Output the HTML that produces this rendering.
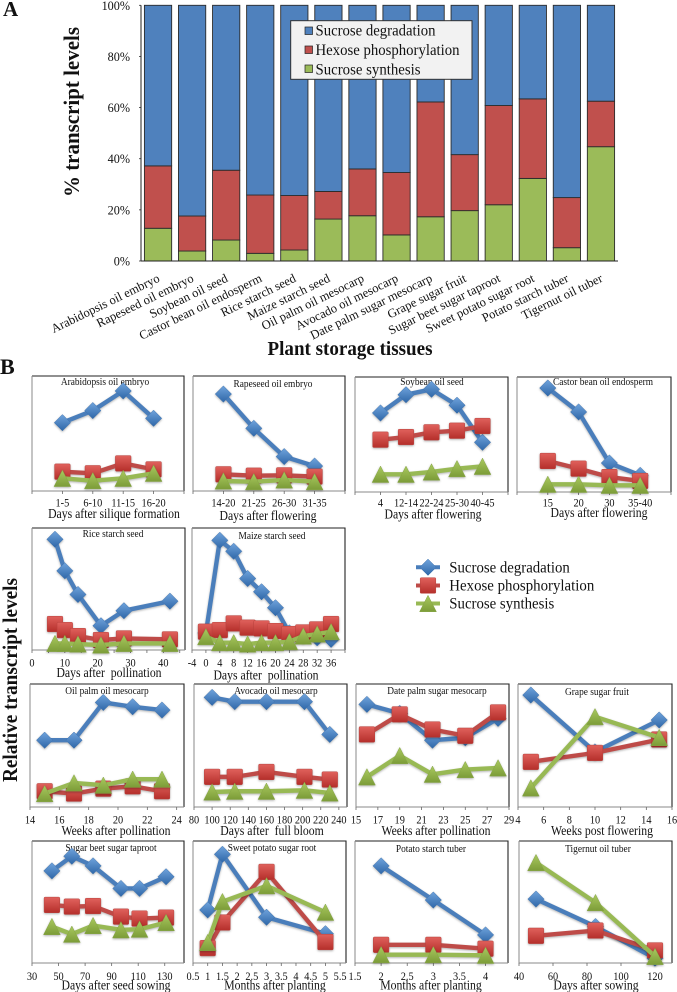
<!DOCTYPE html>
<html lang="en">
<head>
<meta charset="utf-8">
<title>Transcript levels in plant storage tissues</title>
<style>
html,body{margin:0;padding:0;background:#fff;width:677px;height:992px;overflow:hidden}
svg{display:block;filter:blur(.35px)}
text{font-family:"Liberation Serif",serif;fill:#111}
</style>
</head>
<body>
<svg id="fig" xmlns="http://www.w3.org/2000/svg" width="677" height="992" viewBox="0 0 677 992">
<defs>
<linearGradient id="gb" x1="0" y1="0" x2="0" y2="1"><stop offset="0" stop-color="#6fa3dc"/><stop offset="1" stop-color="#2f67a8"/></linearGradient>
<linearGradient id="gr" x1="0" y1="0" x2="0" y2="1"><stop offset="0" stop-color="#e0615c"/><stop offset="1" stop-color="#b52f2b"/></linearGradient>
<linearGradient id="gg" x1="0" y1="0" x2="0" y2="1"><stop offset="0" stop-color="#a9c95f"/><stop offset="1" stop-color="#7c9c38"/></linearGradient>
</defs>
<text x="3" y="16" font-size="21" font-weight="bold">A</text>
<text x="0" y="374" font-size="22" font-weight="bold">B</text>
<text transform="translate(79 112) rotate(-90)" text-anchor="middle" font-size="22" font-weight="bold" textLength="170" lengthAdjust="spacingAndGlyphs">% transcript levels</text>
<text x="350" y="355" text-anchor="middle" font-size="20" font-weight="bold" textLength="165" lengthAdjust="spacingAndGlyphs">Plant storage tissues</text>
<text transform="translate(17 680) rotate(-90)" text-anchor="middle" font-size="21" font-weight="bold" textLength="204" lengthAdjust="spacingAndGlyphs">Relative transcript levels</text>
<g id="bars"></g>
<g id="legendA">
<rect x="290.7" y="20.7" width="181.3" height="58.6" fill="#f2f2f2" stroke="#333" stroke-width="1"/>
<rect x="305" y="27" width="7.5" height="7.5" fill="#4f81bd" stroke="#222" stroke-width=".7"/>
<text x="315.5" y="35.5" font-size="15.5" textLength="120" lengthAdjust="spacingAndGlyphs">Sucrose degradation</text>
<rect x="305" y="46" width="7.5" height="7.5" fill="#c0504d" stroke="#222" stroke-width=".7"/>
<text x="315.5" y="55" font-size="15.5" textLength="144" lengthAdjust="spacingAndGlyphs">Hexose phosphorylation</text>
<rect x="305" y="65" width="7.5" height="7.5" fill="#9bbb59" stroke="#222" stroke-width=".7"/>
<text x="315.5" y="74.5" font-size="15.5" textLength="105" lengthAdjust="spacingAndGlyphs">Sucrose synthesis</text>
</g>
<g id="panels"></g>
<g id="legendB"></g>
<text x="449.3" y="572.5" font-size="15.5" textLength="120.5" lengthAdjust="spacingAndGlyphs">Sucrose degradation</text>
<text x="449.3" y="590.5" font-size="15.5" textLength="145" lengthAdjust="spacingAndGlyphs">Hexose phosphorylation</text>
<text x="449.3" y="608.5" font-size="15.5" textLength="105" lengthAdjust="spacingAndGlyphs">Sucrose synthesis</text>
</svg>
<script>
/* ---------- Chart A data ---------- */
const tissues = ["Arabidopsis oil embryo","Rapeseed oil embryo","Soybean oil seed","Castor bean oil endosperm","Rice starch seed","Maize starch seed","Oil palm oil mesocarp","Avocado oil mesocarp","Date palm sugar mesocarp","Grape sugar fruit","Sugar beet sugar taproot","Sweet potato sugar root","Potato starch tuber","Tigernut oil tuber"];
const barSynthesis = [12.8,3.9,8.2,3,4.3,16.4,17.7,10.2,17.3,19.7,22,32.3,5.2,44.7];
const barHexose = [24.4,13.7,27.3,22.8,21.3,10.8,18.3,24.4,44.9,21.9,38.8,31.1,19.6,17.8];
const barDegradation = [62.8,82.4,64.5,74.2,74.4,72.8,64,65.4,37.8,58.4,39.2,36.6,75.2,37.5];
const percentTicks = [0,20,40,60,80,100];

/* ---------- Chart B data ---------- */
const panelTitles = ["Arabidopsis oil embryo","Rapeseed oil embryo","Soybean oil seed","Castor bean oil endosperm","Rice starch seed","Maize starch seed","Oil palm oil mesocarp","Avocado oil mesocarp","Date palm sugar mesocarp","Grape sugar fruit","Sugar beet sugar taproot","Sweet potato sugar root","Potato starch tuber","Tigernut oil tuber"];
const panelXTitles = ["Days after silique formation","Days after flowering","Days after flowering","Days after flowering","Days after  pollination","Days after  pollination","Weeks after pollination","Days after  full bloom","Weeks after pollination","Weeks post flowering","Days after seed sowing","Months after planting","Months after planting","Days after sowing"];
const panelXValues = [[1,2,3,4],[1,2,3,4],[1,2,3,4,5],[1,2,3,4],[7,10,14,21,28,42],[0,4,8,12,16,20,24,28,32,36],[15,17,19,21,23],[100,125,160,202,230],[16,19,22,25,28],[5,10,15],[45,60,76,97,111,131],[1,1.5,3,5],[2,3,4],[50,85,120]];
const panelDegradation = [[59.4,69.9,87,63.2],[84.3,54.5,29.9,21.7],[68.7,84.6,89.3,75.4,43.2],[90.4,69.6,25.2,14.5],[90.7,64.9,45.5,19.9,32.2,40],[14,89.9,80.9,58.6,47.7,34.6,14,12,10,8.7],[54.3,54.3,85,81.5,78.8],[89.1,85.6,85.6,85.6,59],[83.4,76.1,54.3,56.3,72],[91,44.8,70.7],[75.5,87.5,79.6,61.1,61.1,70.7],[43.5,89.1,37.5,24],[79.6,51.6,23],[52.4,29.9,4]];
const panelHexose = [[16.8,15.4,24,18.8],[14.5,13.3,13.6,12.5],[45.5,47.8,51.9,53.3,57.4],[27,20.3,13,9.6],[21.3,16.3,11.4,8.2,9.5,8.7],[15,16.3,21.8,18.3,17.7,15.5,13.1,14.4,16.9,21.3],[12.8,10.9,14.9,16.8,12.8],[24.5,24.5,28.5,24.5,22.3],[59,75.3,63,57.9,76.9],[36.7,44,54.9],[47.6,46.2,46.7,38,36.4,37.2],[12.2,33.2,74.7,17.2],[14.9,14.9,11.7],[22.3,26.6,10.3]];
const panelSynthesis = [[11,9,11,15.4],[8.7,8.1,9.6,8.1],[15.4,15.4,17.4,20.3,22.3],[6.7,6.7,5.8,5.8],[5.4,5.4,4.9,4.1,5.4,5.4],[10.9,6,6,4.9,6,6,6.8,11.4,13.1,15],[10.9,19.6,17.7,22.6,22.6],[12.2,12.8,12.8,13.6,11.4],[24.5,41.8,26.6,30.4,31.8],[15.5,73.4,56.5],[29.9,23.6,30.7,27.2,27.7,33.2],[16.8,50.3,63.3,41.6],[6.8,6.8,6.3],[82.3,49.5,5.4]];
const panelTickLabels = [["1-5","6-10","11-15","16-20"],["14-20","21-25","26-30","31-35"],["4","12-14","22-24","25-30","40-45"],["15","20","30","35-40"],[0,10,20,30,40],[-4,0,4,8,12,16,20,24,28,32,36],[14,16,18,20,22,24],[80,100,120,140,160,180,200,220,240],[15,17,19,21,23,25,27,29],[4,6,8,10,12,14,16],[30,50,70,90,110,130],[0.5,1,1.5,2,2.5,3,3.5,4,4.5,5,5.5],[1.5,2,2.5,3,3.5,4],[40,60,80,100,120]];
const panelXMin = [0,0,0,0,0,-4,14,80,15,4,30,0.5,1.5,40];
const panelXMax = [5,5,6,5,46.6,40,24.5,249,29,16,144.5,5.7,4.43,130];
const panelTickStep = [1,1,1,1,5,4,2,20,2,2,20,0.5,0.5,20];

/* ---------- Layout (pixels) ---------- */
const panelLeft = [32,193,355,517,32,192,30,194,356,518,32,193,355,519];
const panelRight = [184,345,508,671,185,345,184,347,509,672,184,346,508,672];
const panelTop = [376,376,377,377,528,528,684,684,684,684,841,841,841,841];
const panelBottom = [491,491,492,492,650,650,807,807,807,807,963,963,963,963];
const tickBaseline = [506.5,506.5,506.5,506.5,666.5,666.5,823.5,823.5,823.5,823.5,980,980,980,980];
const xTitleX = [114,268,433,599,109,266,116,272,436,602,116,275,431,596];
const xTitleY = [518,520,518.5,517,677,679.5,835,835,835,835,989.5,989.5,989.5,989.5];
const titleX = [105,273,432,603,113,272,107,276,437,597,111,272,431,598];
const titleY = [385,387,385,385,537,539,694,694,694,695,851,851,852,852];

const NS = 'http://www.w3.org/2000/svg';
function make(tag, parent, attrs) {
  const el = document.createElementNS(NS, tag);
  for (const k in attrs) el.setAttribute(k, attrs[k]);
  parent.appendChild(el);
  return el;
}
/* The source text is set slightly condensed: squeeze glyphs horizontally. */
function squeeze(el, ratio) {
  el.setAttribute('textLength', el.getComputedTextLength() * ratio);
  el.setAttribute('lengthAdjust', 'spacingAndGlyphs');
}

/* ---------- Chart A ---------- */
const barsG = document.getElementById('bars');
const plotL = 141, plotR = 618, plotT = 5.3, plotB = 261;
const band = (plotR - plotL) / tissues.length;
const barX = i => plotL + band * i + band * 0.1;
const barW = band * 0.8;
const pctY = v => plotB - (plotB - plotT) * v / 100;

const barColors = ['#9bbb59', '#c0504d', '#4f81bd'];
const barSeries = [barSynthesis, barHexose, barDegradation];
const barNames = ['synthesis', 'hexose', 'degradation'];
tissues.forEach((name, i) => {
  let base = 0;
  barSeries.forEach((series, s) => {
    const v = series[i];
    const r = make('rect', barsG, {x: barX(i), y: pctY(base + v), width: barW, height: pctY(base) - pctY(base + v), fill: barColors[s], stroke: '#2b2b2b', 'stroke-width': 0.9});
    
    
    base += v;
  });
  const lab = make('text', barsG, {'text-anchor': 'end', 'font-size': 12.6, transform: 'translate(' + (barX(i) + barW / 2 + 2.5) + ' 281) rotate(-26)'});
  lab.textContent = name;
  
  
});
percentTicks.forEach(t => {
  const lab = make('text', barsG, {x: 130, y: pctY(t) + 4.5, 'text-anchor': 'end', 'font-size': 12.2});
  lab.textContent = t + '%';
  
  
  const tk = make('line', barsG, {x1: plotL - 2, x2: plotL, y1: pctY(t), y2: pctY(t), stroke: '#333', 'stroke-width': 0.8});
  
  
});
const yAxisA = make('line', barsG, {x1: plotL, x2: plotL, y1: plotT, y2: plotB, stroke: '#222', 'stroke-width': 1});


const xAxisA = make('line', barsG, {x1: plotL, x2: plotR, y1: plotB, y2: plotB, stroke: '#222', 'stroke-width': 1.1});



/* ---------- Chart B ---------- */
const lineColors = ['#4a7ebb', '#be4b48', '#98b954'];
const markerFills = ['url(#gb)', 'url(#gr)', 'url(#gg)'];
const seriesNames = ['degradation', 'hexose', 'synthesis'];

function marker(parent, kind, x, y) {
  if (kind === 0) {
    const d = 8.2;
    return make('polygon', parent, {points: [x, y - d, x + d, y, x, y + d, x - d, y].join(','), fill: markerFills[0], stroke: '#3f72ad', 'stroke-width': 0.5});
  }
  if (kind === 1) {
    const d = 7.8;
    return make('rect', parent, {x: x - d, y: y - d, width: 2 * d, height: 2 * d, rx: 1, fill: markerFills[1], stroke: '#b8403c', 'stroke-width': 0.5});
  }
  const w = 8.4, h = 8.2;
  return make('polygon', parent, {points: [x, y - h, x + w, y + h, x - w, y + h].join(','), fill: markerFills[2], stroke: '#86a545', 'stroke-width': 0.5});
}

const panelsG = document.getElementById('panels');
panelTitles.forEach((title, p) => {
  const g = make('g', panelsG, {});
  
  
  const L = panelLeft[p], R = panelRight[p], T = panelTop[p], B = panelBottom[p];
  const xs = v => L + (v - panelXMin[p]) / (panelXMax[p] - panelXMin[p]) * (R - L);
  const ys = v => B - v / 100 * (B - T);

  const frameTop = make('path', g, {d: 'M' + L + ' ' + T + 'H' + R + 'V' + B, fill: 'none', stroke: '#222', 'stroke-width': 1.1});
  
  
  const frameLow = make('path', g, {d: 'M' + L + ' ' + T + 'V' + B + 'H' + R, fill: 'none', stroke: '#8a8a8a', 'stroke-width': 1});
  
  

  for (let v = panelXMin[p]; v <= panelXMax[p] + 1e-6; v += panelTickStep[p]) {
    const tk = make('line', g, {x1: xs(v), x2: xs(v), y1: B, y2: B + 3, stroke: '#666', 'stroke-width': 0.8});
    
    
  }
  panelTickLabels[p].forEach((lbl, i) => {
    const pos = typeof lbl === 'number' ? xs(lbl) : xs(i + 1);
    const t = make('text', g, {x: pos, y: tickBaseline[p], 'text-anchor': 'middle', 'font-size': 12});
    t.textContent = lbl;
    
    
    squeeze(t, 0.86);
  });
  const ttl = make('text', g, {x: titleX[p], y: titleY[p], 'text-anchor': 'middle', 'font-size': 10.4});
  ttl.textContent = title;
  
  
  squeeze(ttl, 0.9);
  const xt = make('text', g, {x: xTitleX[p], y: xTitleY[p], 'text-anchor': 'middle', 'font-size': 13.4, style: 'white-space:pre'});
  xt.textContent = panelXTitles[p];
  
  
  squeeze(xt, 0.875);

  [panelDegradation[p], panelHexose[p], panelSynthesis[p]].forEach((vals, s) => {
    const sg = make('g', g, {style: 'filter:drop-shadow(0 1px 1px rgba(0,0,0,.3))'});
    
    
    const pts = vals.map((v, i) => xs(panelXValues[p][i]) + ',' + ys(v)).join(' ');
    const ln = make('polyline', sg, {points: pts, fill: 'none', stroke: lineColors[s], 'stroke-width': 4.4, 'stroke-linejoin': 'round'});
    
    
    vals.forEach((v, i) => {
      const m = marker(sg, s, xs(panelXValues[p][i]), ys(v));
      
      
    });
  });
});

/* ---------- Legend for B ---------- */
const legendG = document.getElementById('legendB');
const legendRows = [567.3, 585.5, 603.5];
legendRows.forEach((y, s) => {
  const ln = make('line', legendG, {x1: 416, x2: 440, y1: y, y2: y, stroke: lineColors[s], 'stroke-width': 4});
  
  
  const m = marker(legendG, s, 428, y);
  
  
});
</script>
</body>
</html>
